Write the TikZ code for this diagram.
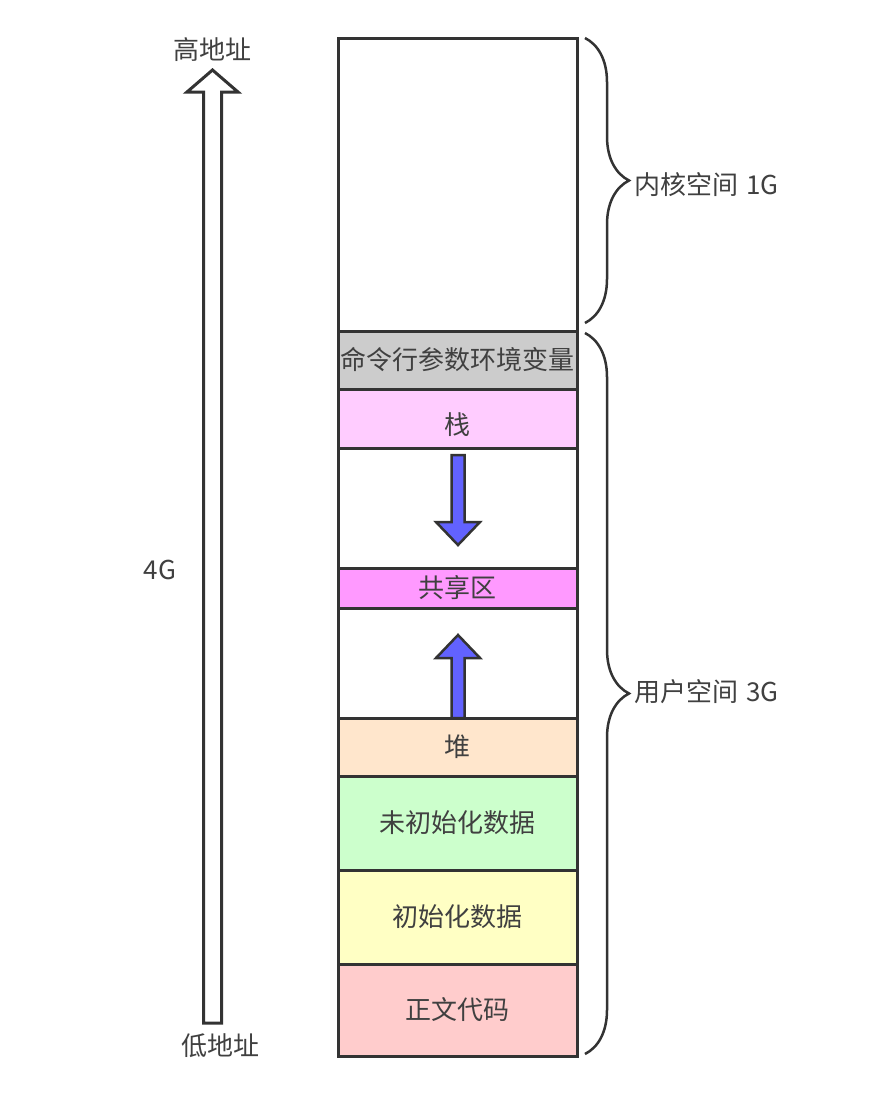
\documentclass[tikz,border=0pt]{standalone}
\usepackage{fontspec}
\setmainfont{Noto Sans CJK SC}
\usepackage{xcolor}
\usepackage{tikz}
\definecolor{textgray}{HTML}{404040}
\definecolor{linegray}{HTML}{333333}
\definecolor{cmdgray}{HTML}{CCCCCC}
\definecolor{stackpink}{HTML}{FFCCFF}
\definecolor{sharedpink}{HTML}{FF99FF}
\definecolor{heaporange}{HTML}{FFE6CC}
\definecolor{bssgreen}{HTML}{CCFFCC}
\definecolor{datayellow}{HTML}{FFFFC4}
\definecolor{codered}{HTML}{FFCCCC}
\definecolor{growblue}{HTML}{6262FF}
\usetikzlibrary{positioning, calc, decorations.pathreplacing}

\begin{document}
\begin{tikzpicture}[x=1pt, y=-1pt,
    seg/.style={draw=linegray, line width=3pt, minimum width=239pt, inner sep=0pt, outer sep=0pt, text=textgray, font=\fontsize{26}{30}\selectfont},
    lbl/.style={text=textgray, font=\fontsize{26}{30}\selectfont, inner sep=0pt},
    growarrow/.style={draw=linegray, line width=2.5pt, fill=growblue, line join=miter},
    spanbrace/.style={decorate, decoration={brace, amplitude=44pt}, draw=linegray, line width=2.5pt}]
    \useasboundingbox (0,0) rectangle (881,1106);

    % Kernel space
    \node[seg, minimum height=293pt, anchor=north west] (kernel) at (338,38) {};

    % User space, top to bottom
    \node[seg, fill=cmdgray, minimum height=58pt, below=0pt of kernel] (cmd) {命令行参数环境变量};
    \node[seg, fill=stackpink, minimum height=59pt, text height=32pt, text depth=0pt, below=0pt of cmd] (stack) {栈};
    \node[seg, fill=white, minimum height=120pt, below=0pt of stack] (gapup) {};
    \node[seg, fill=sharedpink, minimum height=40pt, below=0pt of gapup] (shared) {共享区};
    \node[seg, fill=white, minimum height=110pt, below=0pt of shared] (gapdown) {};
    \node[seg, fill=heaporange, minimum height=58pt, below=0pt of gapdown] (heap) {堆};
    \node[seg, fill=bssgreen, minimum height=94pt, below=0pt of heap] (bss) {未初始化数据};
    \node[seg, fill=datayellow, minimum height=94pt, below=0pt of bss] (data) {初始化数据};
    \node[seg, fill=codered, minimum height=92pt, below=0pt of data] (code) {正文代码};

    % Growth arrows
    \draw[growarrow] (451.5,455) -- (464.5,455) -- (464.5,522) -- (480,522) -- (458,545)
        -- (436,522) -- (451.5,522) -- cycle;
    \draw[growarrow] (451.5,718) -- (451.5,658) -- (436,658) -- (458,635) -- (480,658)
        -- (464.5,658) -- (464.5,718) -- cycle;

    % Address axis
    \node[lbl] (high) at (212,50) {高地址};
    \node[lbl] (low) at (220,1046) {低地址};
    \node[lbl] (total) at (160,570) {4G};
    \draw[draw=linegray, line width=3pt, fill=white, line join=miter]
        (203.5,1023) -- (203.5,92) -- (187,92) -- (212.5,70) -- (238,92) -- (221.5,92) -- (221.5,1023) -- cycle;

    % Braces
    \draw[spanbrace] ($(kernel.north east)+(8,0)$) -- ($(kernel.south east)+(8,-8)$);
    \node[lbl, anchor=west] (kernelsize) at (634,185) {内核空间\hspace{8pt}1G};
    \draw[spanbrace] ($(cmd.north east)+(8,2)$) -- ($(code.south east)+(8,-2)$);
    \node[lbl, anchor=west] (usersize) at (634,692) {用户空间\hspace{8pt}3G};
\end{tikzpicture}
\end{document}
